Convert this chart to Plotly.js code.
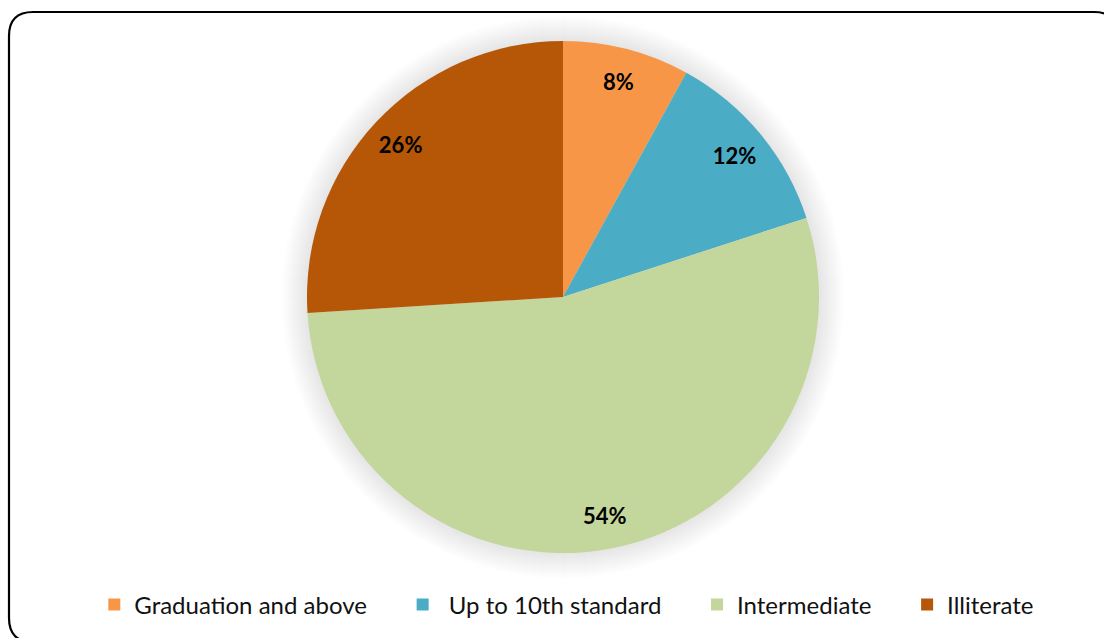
<!DOCTYPE html>
<html>
<head>
<meta charset="utf-8">
<script src="https://cdn.plot.ly/plotly-3.0.1.min.js"></script>
<style>
html,body{margin:0;padding:0;background:#fff;}
#chart{width:1104px;height:638px;}
</style>
</head>
<body>
<div id="chart"></div>
<script>
const categories = ["Graduation and above", "Up to 10th standard", "Intermediate", "Illiterate"];
const values = [8, 12, 54, 26];
const colors = ["#F79646", "#4BACC6", "#C3D69B", "#B65708"];

const W = 1104, H = 638;
const cx = 563, cy = 297, R = 256;
const dom = {x: [(cx - R) / W, (cx + R) / W], y: [1 - (cy + R) / H, 1 - (cy - R) / H]};

// legend display names (extra spacing between entries, as in the original)
const pad = "\u00a0\u00a0\u00a0\u00a0\u00a0";
const legendNames = categories.map((c, i) => (i === 1 ? "\u00a0" : "") + c + pad);

// soft glow behind the pie
const shapes = [];
for (let i = 26; i >= 1; i--) {
  const r = R + i;
  shapes.push({
    type: "circle", xref: "paper", yref: "paper", layer: "below",
    x0: (cx - r) / W, x1: (cx + r) / W, y0: 1 - (cy + r) / H, y1: 1 - (cy - r) / H,
    fillcolor: "rgba(0,0,0,0.0055)", line: {width: 0}
  });
}
// rounded border
const bx0 = 9, by0 = 12, bx1 = 1118, by1 = 642, rr = 24;
const px = v => v / W, py = v => 1 - v / H;
shapes.push({
  type: "path", xref: "paper", yref: "paper",
  path: `M ${px(bx0 + rr)},${py(by0)} L ${px(bx1 - rr)},${py(by0)} Q ${px(bx1)},${py(by0)} ${px(bx1)},${py(by0 + rr)} L ${px(bx1)},${py(by1 - rr)} Q ${px(bx1)},${py(by1)} ${px(bx1 - rr)},${py(by1)} L ${px(bx0 + rr)},${py(by1)} Q ${px(bx0)},${py(by1)} ${px(bx0)},${py(by1 - rr)} L ${px(bx0)},${py(by0 + rr)} Q ${px(bx0)},${py(by0)} ${px(bx0 + rr)},${py(by0)} Z`,
  line: {color: "#000", width: 2.2}
});

const data = [
  {
    type: "pie", labels: legendNames, values: values, sort: false,
    direction: "clockwise", rotation: 0, domain: dom,
    marker: {colors: colors, line: {width: 0}},
    textinfo: "none", hoverinfo: "label+percent"
  },
  {
    type: "pie", labels: legendNames, values: values, sort: false,
    direction: "clockwise", rotation: 0, domain: dom, hole: 0.74,
    marker: {colors: ["rgba(0,0,0,0)","rgba(0,0,0,0)","rgba(0,0,0,0)","rgba(0,0,0,0)"], line: {width: 0}},
    textinfo: "percent", textposition: "inside", insidetextorientation: "horizontal",
    textfont: {family: "Lato, 'Open Sans', sans-serif", size: 22, color: "#000", weight: "bold"},
    showlegend: false, hoverinfo: "skip"
  }
];

const layout = {
  width: W, height: H,
  margin: {l: 0, r: 0, t: 0, b: 0},
  paper_bgcolor: "#fff", plot_bgcolor: "#fff",
  showlegend: true,
  legend: {
    orientation: "h", x: 0.527, xanchor: "center", y: 1 - 605 / H, yanchor: "middle",
    font: {family: "Lato, 'Open Sans', sans-serif", size: 24, color: "#111"},
    itemwidth: 30, traceorder: "normal"
  },
  shapes: shapes
};

Plotly.newPlot("chart", data, layout, {displayModeBar: false, staticPlot: true});
</script>
</body>
</html>
